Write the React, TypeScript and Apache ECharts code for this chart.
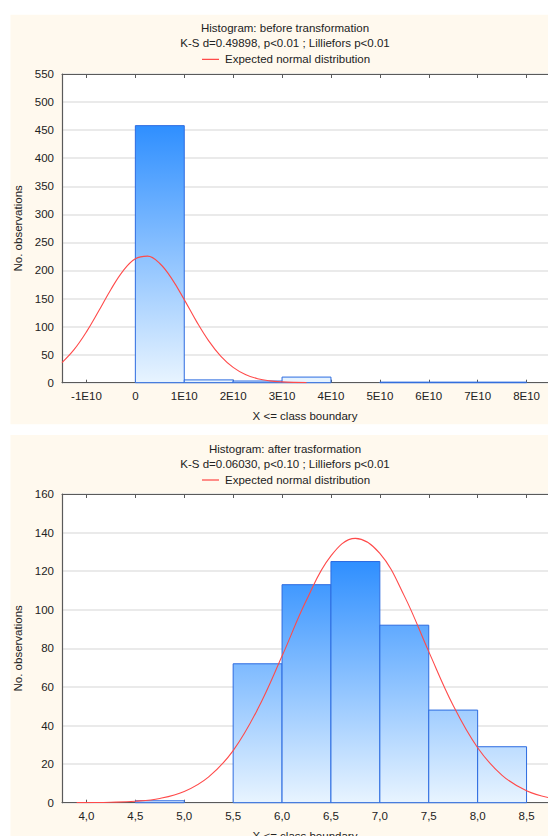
import React, { useEffect, useRef } from "react";
import * as echarts from "echarts";

// ---------- Data: before transformation (x in units of 1E10) ----------
const beforeBinStartE10 = [0, 1, 2, 3, 4, 5, 6, 7];
const beforeBinWidthE10 = 1;
const beforeCounts = [458, 5, 3, 10, 0, 1, 1, 1];
const beforeTicksE10 = [-1, 0, 1, 2, 3, 4, 5, 6, 7, 8];
const beforeYTicks = [0, 550, 50]; // min, max, step
const beforeCurveXE10 = [-1.5, -1.25, -1, -0.75, -0.5, -0.25, 0, 0.25, 0.5, 0.75, 1, 1.25, 1.5, 1.75, 2, 2.25, 2.5, 2.75, 3, 3.25, 3.5];
const beforeCurveY = [35.8, 59.3, 90.6, 127.7, 166.2, 199.4, 220.8, 225.5, 212.4, 184.6, 148.0, 109.3, 74.6, 47.0, 27.3, 14.6, 7.2, 3.3, 1.4, 0.5, 0.2];

// ---------- Data: after transformation ----------
const afterBinStart = [4.0, 4.5, 5.0, 5.5, 6.0, 6.5, 7.0, 7.5, 8.0];
const afterBinWidth = 0.5;
const afterCounts = [0, 1, 0, 72, 113, 125, 92, 48, 29];
const afterTicks = [4.0, 4.5, 5.0, 5.5, 6.0, 6.5, 7.0, 7.5, 8.0, 8.5];
const afterYTicks = [0, 160, 20];
const afterCurveX = [3.9, 4.0, 4.25, 4.5, 4.75, 5.0, 5.25, 5.5, 5.75, 6.0, 6.25, 6.5, 6.75, 7.0, 7.25, 7.5, 7.75, 8.0, 8.25, 8.5, 8.75];
const afterCurveY = [0.03, 0.06, 0.22, 0.75, 2.2, 5.8, 13.4, 27.0, 48.4, 76.0, 105.0, 127.9, 137.0, 129.2, 107.2, 78.3, 50.4, 28.5, 14.2, 6.2, 2.4];

const titlesBefore = [
  "Histogram: before transformation",
  "K-S d=0.49898, p<0.01 ; Lilliefors p<0.01",
];
const titlesAfter = [
  "Histogram: after trasformation",
  "K-S d=0.06030, p<0.10 ; Lilliefors p<0.01",
];
const legendText = "Expected normal distribution";
const xAxisName = "X <= class boundary";
const yAxisName = "No. observations";

const FONT = "'Liberation Sans', Arial, sans-serif";
const TEXT = "#222";
const AXIS = "#5a5a5a";
const CREAM = "#FFF9EE";

export default function App() {
  const ref = useRef<HTMLDivElement>(null);

  useEffect(() => {
    document.body.style.margin = "0";
    if (!ref.current) return;
    const chart = echarts.init(ref.current, undefined, { renderer: "svg" });

    const histItem = (maxCount: number) => (params: any, api: any) => {
      const x0 = api.value(0);
      const x1 = api.value(1);
      const y = api.value(2);
      if (!y) return { type: "group", children: [] };
      const p0 = api.coord([x0, y]);
      const p1 = api.coord([x1, 0]);
      const top = api.coord([x0, maxCount])[1];
      const grad = new echarts.graphic.LinearGradient(
        0, top, 0, p1[1],
        [
          { offset: 0, color: "#2F8FFF" },
          { offset: 1, color: "#E8F4FF" },
        ],
        true
      );
      return {
        type: "rect",
        shape: { x: p0[0], y: p0[1], width: p1[0] - p0[0], height: p1[1] - p0[1] },
        style: { fill: grad, stroke: "#2C6BE0", lineWidth: 1 },
      };
    };

    const beforeData = beforeBinStartE10.map((s, i) => [s, s + beforeBinWidthE10, beforeCounts[i]]);
    const afterData = afterBinStart.map((s, i) => [s, s + afterBinWidth, afterCounts[i]]);

    const fmtBefore = (v: number) => (v === 0 ? "0" : `${v}E10`);
    const fmtAfter = (v: number) => v.toFixed(1).replace(".", ",");

    const gridTop1 = 74;
    const gridTop2 = 494;
    const gridH = 308.7;

    const panelText = (yOff: number, lines: string[]) => [
      {
        type: "text",
        x: 285,
        y: yOff + 28.3,
        style: { text: lines[0], fill: TEXT, font: `11.5px ${FONT}`, textAlign: "center", textVerticalAlign: "middle" },
      },
      {
        type: "text",
        x: 285,
        y: yOff + 43.3,
        style: { text: lines[1], fill: TEXT, font: `11.5px ${FONT}`, textAlign: "center", textVerticalAlign: "middle" },
      },
      {
        type: "line",
        shape: { x1: 202, y1: yOff + 59.3, x2: 219, y2: yOff + 59.3 },
        style: { stroke: "#FF2020", lineWidth: 1 },
      },
      {
        type: "text",
        x: 225,
        y: yOff + 59.3,
        style: { text: legendText, fill: TEXT, font: `11.5px ${FONT}`, textAlign: "left", textVerticalAlign: "middle" },
      },
    ];

    const bottomAxis = (gridIndex: number, min: number, max: number, ticks: number[], fmt: (v: number) => string) => ({
      type: "value",
      gridIndex,
      position: "bottom",
      min,
      max,
      name: xAxisName,
      nameLocation: "middle",
      nameGap: 27,
      nameTextStyle: { color: TEXT, fontSize: 11.5, fontFamily: FONT },
      axisLine: { show: true, onZero: false, lineStyle: { color: AXIS, width: 1 } },
      axisTick: { show: true, inside: true, length: 3, customValues: ticks, lineStyle: { color: AXIS } },
      axisLabel: { show: true, customValues: ticks, formatter: fmt, color: TEXT, fontSize: 11.5, fontFamily: FONT, margin: 7 },
      splitLine: { show: false },
    });

    const topAxis = (gridIndex: number, min: number, max: number, ticks: number[]) => ({
      type: "value",
      gridIndex,
      position: "top",
      min,
      max,
      axisLine: { show: true, onZero: false, lineStyle: { color: AXIS, width: 1 } },
      axisTick: { show: true, inside: true, length: 4, customValues: ticks, lineStyle: { color: AXIS } },
      axisLabel: { show: false },
      splitLine: { show: false },
    });

    const leftAxis = (gridIndex: number, yt: number[]) => ({
      type: "value",
      gridIndex,
      position: "left",
      min: yt[0],
      max: yt[1],
      interval: yt[2],
      name: yAxisName,
      nameLocation: "middle",
      nameGap: 36,
      nameTextStyle: { color: TEXT, fontSize: 11.5, fontFamily: FONT },
      axisLine: { show: true, onZero: false, lineStyle: { color: AXIS, width: 1.2 } },
      axisTick: { show: false },
      axisLabel: { color: TEXT, fontSize: 11.5, fontFamily: FONT, margin: 8 },
      splitLine: { show: true, lineStyle: { color: "#E3E3E3", width: 1.5 } },
    });

    const min1 = -1.5;
    const max1 = -1.5 + 486 / 48.9;
    const min2 = 3.75;
    const max2 = 3.75 + 486 / 97.8;

    const option: any = {
      animation: false,
      backgroundColor: "#ffffff",
      graphic: [
        { type: "rect", z: -10, shape: { x: 10.5, y: 14.7, width: 540, height: 409.6 }, style: { fill: CREAM } },
        { type: "rect", z: -10, shape: { x: 10.5, y: 435, width: 540, height: 405 }, style: { fill: CREAM } },
        ...panelText(0, titlesBefore),
        ...panelText(420.7, titlesAfter),
      ],
      grid: [
        { left: 62, right: 0, top: gridTop1, height: gridH, show: true, backgroundColor: "#ffffff", borderWidth: 0, containLabel: false, outerBoundsMode: "none" },
        { left: 62, right: 0, top: gridTop2, height: gridH, show: true, backgroundColor: "#ffffff", borderWidth: 0, containLabel: false, outerBoundsMode: "none" },
      ],
      xAxis: [
        bottomAxis(0, min1, max1, beforeTicksE10, fmtBefore),
        topAxis(0, min1, max1, beforeTicksE10),
        bottomAxis(1, min2, max2, afterTicks, fmtAfter),
        topAxis(1, min2, max2, afterTicks),
      ],
      yAxis: [leftAxis(0, beforeYTicks), leftAxis(1, afterYTicks)],
      series: [
        {
          type: "custom",
          xAxisIndex: 0,
          yAxisIndex: 0,
          renderItem: histItem(Math.max(...beforeCounts)),
          data: beforeData,
          encode: { x: [0, 1], y: 2 },
          z: 2,
        },
        {
          type: "line",
          xAxisIndex: 0,
          yAxisIndex: 0,
          data: beforeCurveXE10.map((x, i) => [x, beforeCurveY[i]]),
          smooth: 0.4,
          showSymbol: false,
          symbol: "none",
          lineStyle: { color: "#FF4A4A", width: 1.1 },
          z: 5,
        },
        {
          type: "custom",
          xAxisIndex: 2,
          yAxisIndex: 1,
          renderItem: histItem(Math.max(...afterCounts)),
          data: afterData,
          encode: { x: [0, 1], y: 2 },
          z: 2,
        },
        {
          type: "line",
          xAxisIndex: 2,
          yAxisIndex: 1,
          data: afterCurveX.map((x, i) => [x, afterCurveY[i]]),
          smooth: 0.4,
          showSymbol: false,
          symbol: "none",
          lineStyle: { color: "#FF4A4A", width: 1.1 },
          z: 5,
        },
      ],
    };

    chart.setOption(option);
    return () => chart.dispose();
  }, []);

  return <div ref={ref} style={{ width: 548, height: 836 }} />;
}
